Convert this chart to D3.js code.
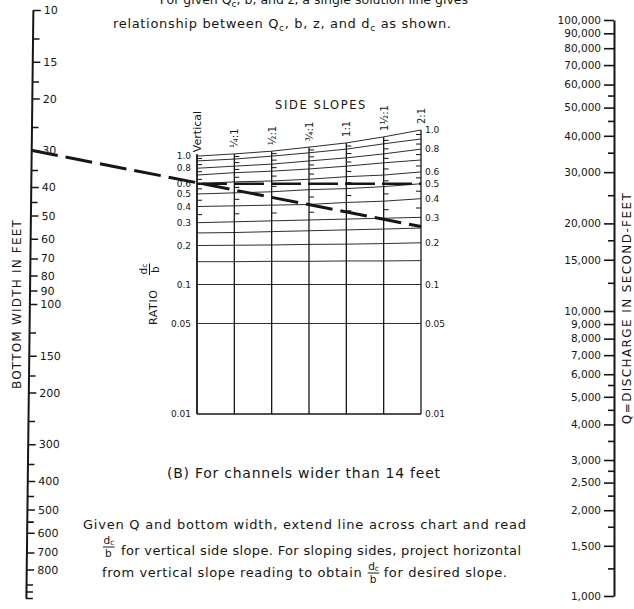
<!DOCTYPE html>
<html><head><meta charset="utf-8">
<script src="https://cdn.jsdelivr.net/npm/d3@7"></script>
<style>
html,body{margin:0;padding:0;background:#fff;}
svg{display:block;font-family:"DejaVu Sans",sans-serif;}
</style></head><body>
<svg id="c" width="634" height="609"></svg>
<script>
// ---------- data ----------
const bottomWidthLabels = [10,15,20,30,40,50,60,70,80,90,100,150,200,300,400,500,600,700,800];
const bottomWidthMinor  = [12.5,17.5,25,35,45,125,175,250,350,450,550,900,950,1000];
const dischargeLabels = [100000,90000,80000,70000,60000,50000,40000,30000,20000,15000,10000,9000,8000,7000,6000,5000,4000,3000,2500,2000,1500,1000];
const dischargeMinor  = [55000,45000,35000,25000,17500,12500,5500,4500,3500,2750,2250,1750,1250];
const slopes = ["Vertical","¼:1","½:1","¾:1","1:1","1½:1","2:1"];
// ratio lines: vertical-equivalent reading at each side-slope column
const r100 = [0.98,1.02,1.07,1.15,1.24,1.38,1.56];
const r090 = [0.90,0.93,0.98,1.04,1.11,1.22,1.33];
const r080 = [0.79,0.82,0.85,0.90,0.95,1.02,1.11];
const r070 = [0.70,0.73,0.75,0.78,0.82,0.87,0.915];
const r060 = [0.60,0.62,0.63,0.65,0.68,0.70,0.74];
const r050 = [0.50,0.51,0.52,0.54,0.55,0.57,0.60];
const r040 = [0.40,0.405,0.41,0.415,0.43,0.44,0.46];
const r030 = [0.30,0.305,0.31,0.315,0.32,0.325,0.33];
const r025 = [0.25,0.252,0.256,0.26,0.264,0.268,0.273];
const r020 = [0.20,0.201,0.202,0.204,0.205,0.207,0.21];
const r015 = [0.15,0.15,0.151,0.151,0.152,0.152,0.153];
const r010 = [0.1,0.1,0.1,0.1,0.1,0.1,0.1];
const r005 = [0.05,0.05,0.05,0.05,0.05,0.05,0.05];
const r001 = [0.01,0.01,0.01,0.01,0.01,0.01,0.01];
const ratioLabels = ["1.0","0.8","0.6","0.5","0.4","0.3","0.2","0.1","0.05","0.01"];
// worked example
const exampleBottomWidth = 30;
const exampleVerticalRatio = 0.6;
const exampleEndRatio = 0.28;

const ratioCurves = [r100,r090,r080,r070,r060,r050,r040,r030,r025,r020,r015,r010,r005,r001];
const labelledCurves = {"1.0":r100,"0.8":r080,"0.6":r060,"0.5":r050,"0.4":r040,"0.3":r030,"0.2":r020,"0.1":r010,"0.05":r005,"0.01":r001};

// ---------- scales ----------
const svg = d3.select("#c");
const ink = "#161616";
const bScale = d3.scaleLog().domain([10,1000]).range([10,598]);
const qScale = d3.scaleLog().domain([1000,10000,100000]).range([596,311,20]);
const slopeX = d3.scalePoint().domain(slopes).range([197,421]);
const rScale = d3.scaleLog().domain([0.01,1]).range([414,155]);
const skewTan = -7/588;
const leftX0 = 33;

// ---------- left axis (bottom width) ----------
const leftG = svg.append("g").attr("transform",`translate(${leftX0},0) skewX(${Math.atan(skewTan)*180/Math.PI})`);
const leftMinor = leftG.append("g").call(d3.axisRight(bScale).tickValues(bottomWidthMinor).tickFormat("").tickSize(7).tickSizeOuter(0));
const leftMajor = leftG.append("g").call(d3.axisRight(bScale).tickValues(bottomWidthLabels).tickFormat(d3.format("d")).tickSize(8).tickPadding(3).tickSizeOuter(0));
leftG.selectAll(".domain").attr("stroke",ink).attr("stroke-width",2);
leftG.selectAll(".tick line").attr("stroke",ink).attr("stroke-width",1.6);
leftMajor.selectAll("text").attr("font-size",11).attr("fill",ink).attr("font-family","DejaVu Sans");
leftMinor.selectAll(".domain").remove();

svg.append("text").attr("transform","translate(21,304) rotate(-90)").attr("text-anchor","middle")
  .attr("font-size",12).attr("fill",ink).attr("letter-spacing",1.2).text("BOTTOM WIDTH IN FEET");

// ---------- right axis (discharge) ----------
const rightG = svg.append("g").attr("transform","translate(614,0)");
const rMinor = rightG.append("g").call(d3.axisLeft(qScale).tickValues(dischargeMinor).tickFormat("").tickSize(6).tickSizeOuter(0));
const rMajor = rightG.append("g").call(d3.axisLeft(qScale).tickValues(dischargeLabels).tickFormat(d3.format(",")).tickSize(10).tickPadding(3).tickSizeOuter(0));
rightG.selectAll(".domain").attr("stroke",ink).attr("stroke-width",2);
rightG.selectAll(".tick line").attr("stroke",ink).attr("stroke-width",1.6);
rMajor.selectAll("text").attr("font-size",10.5).attr("fill",ink).attr("font-family","DejaVu Sans");
rMinor.selectAll(".domain").remove();

svg.append("text").attr("transform","translate(631,308) rotate(-90)").attr("text-anchor","middle")
  .attr("font-size",12).attr("fill",ink).attr("letter-spacing",1.4).text("Q=DISCHARGE IN SECOND-FEET");

// ---------- centre chart ----------
const cg = svg.append("g");
const lineGen = d3.line().x((d,i)=>slopeX(slopes[i])).y(d=>rScale(d));
cg.selectAll("path.rl").data(ratioCurves).join("path").attr("class","rl")
  .attr("d",lineGen).attr("fill","none").attr("stroke",ink)
  .attr("stroke-width",(d)=>d===r001?1.6:0.9);

cg.selectAll("line.col").data(slopes).join("line").attr("class","col")
  .attr("x1",d=>slopeX(d)).attr("x2",d=>slopeX(d))
  .attr("y1",(d,i)=>rScale(r100[i])-(i===0?2:0)).attr("y2",rScale(0.01))
  .attr("stroke",ink).attr("stroke-width",(d,i)=>i===0?1.8:1.3);

const upper = [r100,r090,r080,r070,r060,r050,r040,r030];
const midTicks = [];
slopes.forEach((s,i)=>{
  for(let k=0;k<upper.length-1;k++){
    midTicks.push({s,i,y:(rScale(upper[k][i])+rScale(upper[k+1][i]))/2});
  }
});
cg.selectAll("line.mt").data(midTicks).join("line").attr("class","mt")
  .attr("x1",d=>slopeX(d.s)).attr("x2",d=>slopeX(d.s)+(d.i===6?-5:5))
  .attr("y1",d=>d.y).attr("y2",d=>d.y).attr("stroke",ink).attr("stroke-width",1);

cg.selectAll("text.ll").data(ratioLabels).join("text").attr("class","ll")
  .attr("x",191).attr("y",d=>rScale(labelledCurves[d][0])).attr("dy","0.35em")
  .attr("text-anchor","end").attr("font-size",9).attr("fill",ink).text(d=>d);
cg.selectAll("text.rlb").data(ratioLabels).join("text").attr("class","rlb")
  .attr("x",425).attr("y",d=>rScale(labelledCurves[d][6])).attr("dy","0.35em")
  .attr("text-anchor","start").attr("font-size",9).attr("fill",ink).text(d=>d);

cg.selectAll("text.hd").data(slopes).join("text").attr("class","hd")
  .attr("transform",(d,i)=>`translate(${slopeX(d)+4},${rScale(r100[i])-(i===0?4:6)}) rotate(-90)`)
  .attr("font-size",(d,i)=>i===0?11:10).attr("fill",ink).text(d=>d);

cg.append("text").attr("x",321).attr("y",109).attr("text-anchor","middle")
  .attr("font-size",11.5).attr("letter-spacing",1.6).attr("fill",ink).text("SIDE SLOPES");

// fraction d_c / b as a single text element
function frac(g,x,yBar,fs){
  const t = g.append("text").attr("font-size",fs);
  t.append("tspan").attr("x",x-4.5).attr("y",yBar-3).text("d");
  t.append("tspan").attr("dy",0.8).attr("font-size",fs*0.72).text("c");
  t.append("tspan").attr("x",x-3).attr("y",yBar+fs*0.95).text("b");
  g.append("line").attr("x1",x-5).attr("x2",x+6.5).attr("y1",yBar).attr("y2",yBar).attr("stroke",ink).attr("stroke-width",1);
}

const rat = svg.append("g").attr("transform","translate(152,325) rotate(-90)").attr("fill",ink);
rat.append("text").attr("x",0).attr("y",4.5).attr("font-size",11).attr("letter-spacing",0.6).text("RATIO");
frac(rat,55,-2.5,10.5);

// worked example
const yB = bScale(exampleBottomWidth);
const x0 = leftX0 + yB*skewTan;
svg.append("line").attr("x1",x0).attr("y1",yB)
  .attr("x2",slopeX("2:1")).attr("y2",rScale(exampleEndRatio))
  .attr("stroke",ink).attr("stroke-width",3).attr("stroke-dasharray","27,8");
svg.append("line").attr("x1",slopeX("Vertical")).attr("x2",slopeX("2:1"))
  .attr("y1",rScale(exampleVerticalRatio)).attr("y2",rScale(exampleVerticalRatio))
  .attr("stroke",ink).attr("stroke-width",2.4).attr("stroke-dasharray","30,7");

// ---------- texts ----------
const t1 = svg.append("text").attr("x",468).attr("y",4).attr("text-anchor","end").attr("font-size",12.5).attr("fill",ink);
t1.append("tspan").text("For given Q");
t1.append("tspan").attr("dy",3).attr("font-size",9).text("c");
t1.append("tspan").attr("dy",-3).text(", b, and z,  a single solution line gives");

const t2 = svg.append("text").attr("x",113).attr("y",28).attr("font-size",13).attr("fill",ink)
  .attr("textLength",338).attr("lengthAdjust","spacing");
t2.append("tspan").text("relationship between Q");
t2.append("tspan").attr("dy",3).attr("font-size",9).text("c");
t2.append("tspan").attr("dy",-3).text(", b, z, and d");
t2.append("tspan").attr("dy",3).attr("font-size",9).text("c");
t2.append("tspan").attr("dy",-3).text(" as shown.");

svg.append("text").attr("x",167).attr("y",478).attr("font-size",14).attr("fill",ink)
  .attr("textLength",273).attr("lengthAdjust","spacing").text("(B)  For channels wider than 14 feet");

const fs = 13;
svg.append("text").attr("x",83).attr("y",529).attr("font-size",fs).attr("fill",ink)
  .attr("textLength",443).attr("lengthAdjust","spacing").text("Given Q and bottom width, extend line across chart and read");
const fg = svg.append("g").attr("fill",ink);
frac(fg,108,547,10.5);
svg.append("text").attr("x",121).attr("y",555).attr("font-size",fs).attr("fill",ink)
  .attr("textLength",400).attr("lengthAdjust","spacing").text("for vertical side slope. For sloping sides, project horizontal");

// third line: text, fraction, text spread over 102..507
const l3a = svg.append("text").attr("x",102).attr("y",577).attr("font-size",fs).attr("fill",ink).text("from vertical slope reading to obtain");
const l3b = svg.append("text").attr("y",577).attr("font-size",fs).attr("fill",ink).text("for desired slope.");
const wA = l3a.node().getComputedTextLength(), wBw = l3b.node().getComputedTextLength();
const fracW = 22, span = 507-102;
const k = (span - fracW)/(wA + wBw);
l3a.attr("textLength",wA*k).attr("lengthAdjust","spacing");
const fx = 102 + wA*k + fracW/2;
frac(fg,fx,573,10.5);
l3b.attr("x",102 + wA*k + fracW).attr("textLength",wBw*k).attr("lengthAdjust","spacing");
</script>
</body></html>
